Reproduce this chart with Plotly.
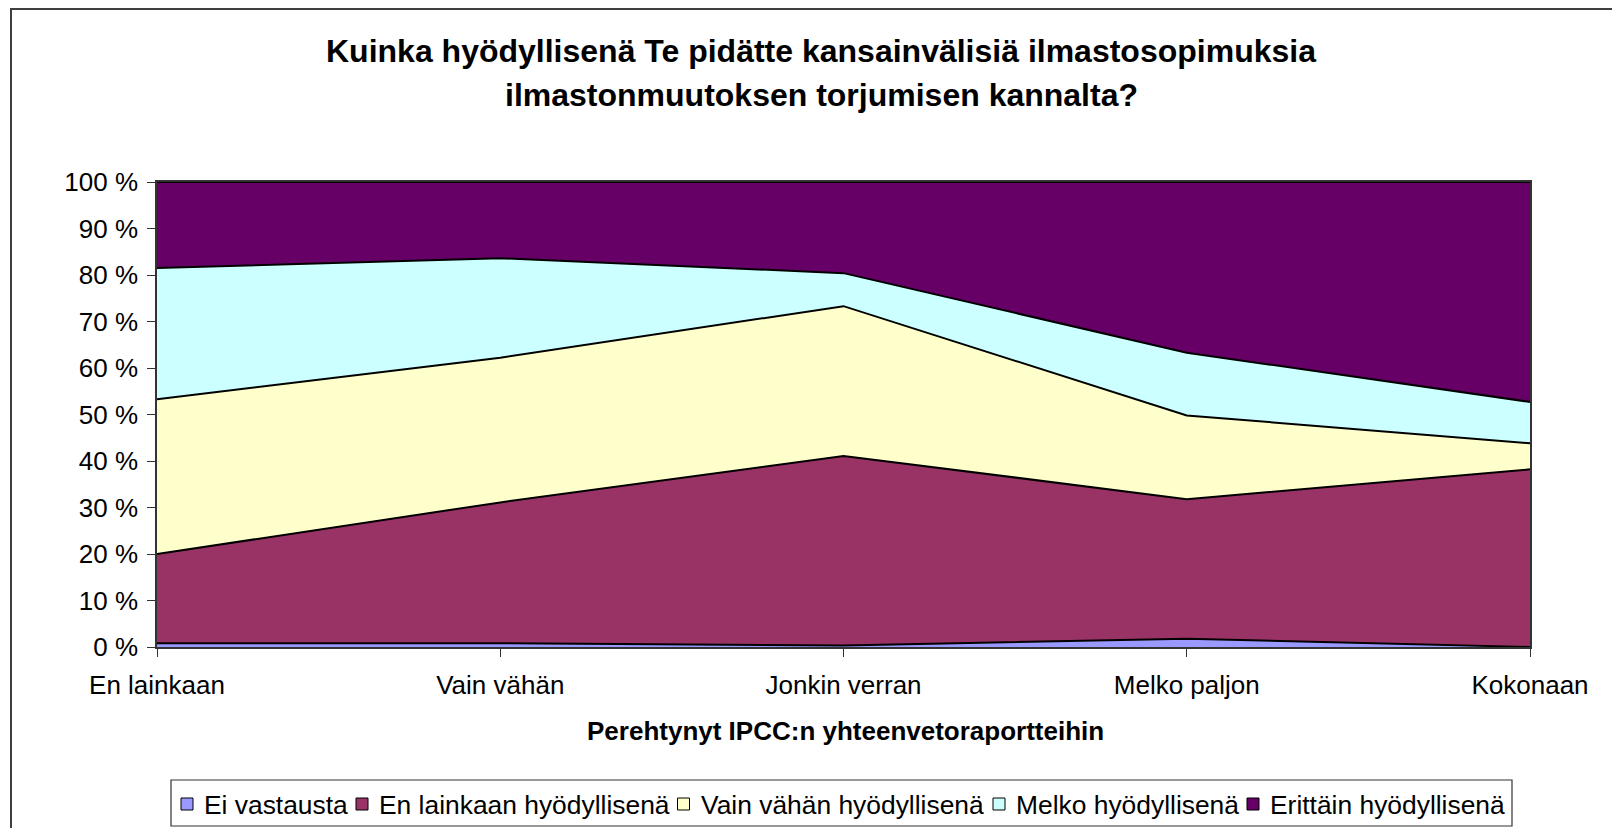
import plotly.graph_objects as go

categories = ["En lainkaan", "Vain vähän", "Jonkin verran", "Melko paljon", "Kokonaan"]
series_names = ["Ei vastausta", "En lainkaan hyödyllisenä", "Vain vähän hyödyllisenä",
                "Melko hyödyllisenä", "Erittäin hyödyllisenä"]
ei_vastausta = [0.8, 0.8, 0.3, 1.8, 0.0]
en_lainkaan = [19.2, 30.3, 40.8, 30.0, 38.2]
vain_vahan = [33.3, 31.1, 32.2, 18.0, 5.6]
melko = [28.2, 21.4, 7.1, 13.5, 8.9]
erittain = [18.5, 16.4, 19.6, 36.7, 47.3]
y_ticks = list(range(0, 101, 10))

series_values = [ei_vastausta, en_lainkaan, vain_vahan, melko, erittain]
colors = ["#9999FF", "#993366", "#FFFFCC", "#CCFFFF", "#660066"]

FONT = "Liberation Sans, Arial, sans-serif"
W, H = 1612, 820           # page has an 8px body margin
ML, MR, MT, MB = 149, 90, 174, 181
PW, PH = W - ML - MR, H - MT - MB


def px(x):
    return (x - ML) / PW


def py(y):
    return (H - MB - y) / PH


xs = list(range(len(categories)))

fig = go.Figure()
for name, vals, col in zip(series_names, series_values, colors):
    fig.add_trace(go.Scatter(
        x=xs, y=vals, name=name, mode="lines",
        stackgroup="one", groupnorm="percent",
        line=dict(color="black", width=2),
        fillcolor=col, showlegend=False, hoverinfo="skip"))

# manual legend (box, swatches, labels)
legend_sq_x = [173, 348, 669.5, 985, 1239]
shapes = [
    dict(type="rect", xref="paper", yref="paper",
         x0=px(3), x1=px(1630), y0=py(835), y1=py(1),
         line=dict(color="#404040", width=2), fillcolor="rgba(0,0,0,0)", layer="below"),
    dict(type="rect", xref="paper", yref="paper",
         x0=px(163), x1=px(1504), y0=py(818), y1=py(772),
         line=dict(color="#333333", width=1.2), fillcolor="white", layer="above"),
]
annotations = [
    dict(text="<b>Kuinka hyödyllisenä Te pidätte kansainvälisiä ilmastosopimuksia</b>",
         xref="paper", yref="paper", x=px(813), y=py(43), xanchor="center",
         yanchor="middle", showarrow=False, font=dict(size=32)),
    dict(text="<b>ilmastonmuutoksen torjumisen kannalta?</b>",
         xref="paper", yref="paper", x=px(813), y=py(87), xanchor="center",
         yanchor="middle", showarrow=False, font=dict(size=32)),
    dict(text="<b>Perehtynyt IPCC:n yhteenvetoraportteihin</b>",
         xref="paper", yref="paper", x=px(837), y=py(723), xanchor="center",
         yanchor="middle", showarrow=False, font=dict(size=26)),
]
for name, col, sx in zip(series_names, colors, legend_sq_x):
    shapes.append(dict(type="rect", xref="paper", yref="paper",
                       x0=px(sx), x1=px(sx + 12), y0=py(802), y1=py(790),
                       line=dict(color="black", width=1), fillcolor=col, layer="above"))
    annotations.append(dict(text=name, xref="paper", yref="paper",
                            x=px(sx + 21), y=py(797), xanchor="left", yanchor="middle",
                            showarrow=False, font=dict(size=26.4)))

fig.update_layout(
    width=W, height=H,
    margin=dict(l=ML, r=MR, t=MT, b=MB, autoexpand=False),
    paper_bgcolor="white", plot_bgcolor="white",
    font=dict(family=FONT, size=26, color="black"),
    showlegend=False,
    xaxis=dict(range=[0, 4], tickvals=xs, ticktext=categories,
               showgrid=False, zeroline=False, showline=True, mirror=True,
               linecolor="#333333", linewidth=1.5,
               ticks="outside", ticklen=8, tickcolor="#333333",
               ticklabelstandoff=6),
    yaxis=dict(range=[0, 100], tickvals=y_ticks,
               ticktext=[f"{v} %" for v in y_ticks],
               showgrid=False, zeroline=False, showline=True, mirror=True,
               linecolor="#333333", linewidth=1.5,
               ticks="outside", ticklen=8, tickcolor="#333333",
               ticklabelstandoff=4),
    annotations=annotations,
    shapes=shapes,
)

fig.write_html("out.html")
